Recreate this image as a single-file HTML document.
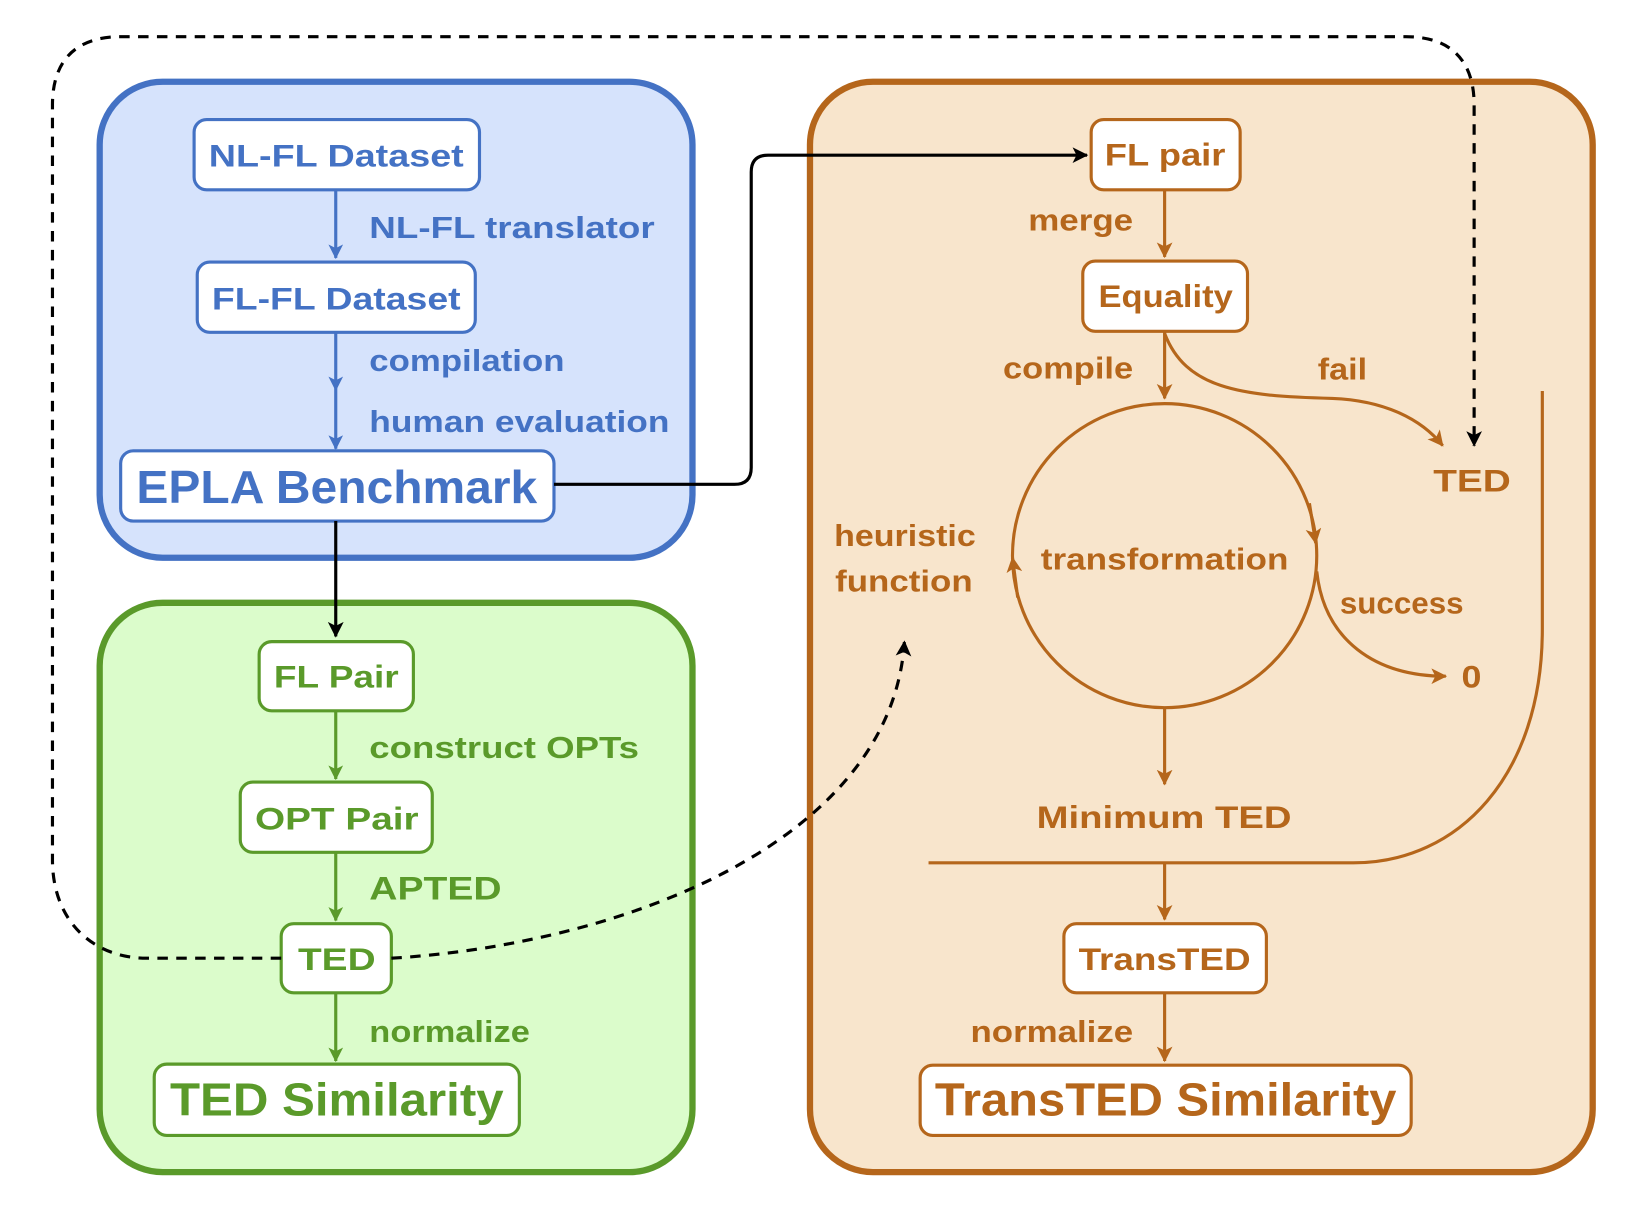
<!DOCTYPE html>
<html><head><meta charset="utf-8"><style>
html,body{margin:0;padding:0;background:#fff;}
svg{display:block;}
text{font-family:"Liberation Sans",sans-serif;font-weight:bold;}
</style></head><body>
<svg width="1642" height="1213" viewBox="0 0 1565 1157" preserveAspectRatio="none" xmlns="http://www.w3.org/2000/svg">
<defs>
<marker id="ab" viewBox="0 0 12 12" refX="11" refY="6" markerWidth="14" markerHeight="14" markerUnits="userSpaceOnUse" orient="auto"><path d="M0,0 L12,6 L0,12 L3,6 Z" fill="#4472c4"/></marker>
<marker id="ag" viewBox="0 0 12 12" refX="11" refY="6" markerWidth="14" markerHeight="14" markerUnits="userSpaceOnUse" orient="auto"><path d="M0,0 L12,6 L0,12 L3,6 Z" fill="#5a9a2a"/></marker>
<marker id="ao" viewBox="0 0 12 12" refX="11" refY="6" markerWidth="15" markerHeight="15" markerUnits="userSpaceOnUse" orient="auto"><path d="M0,0 L12,6 L0,12 L3,6 Z" fill="#b5661b"/></marker>
<marker id="ak" viewBox="0 0 12 12" refX="11" refY="6" markerWidth="15" markerHeight="15" markerUnits="userSpaceOnUse" orient="auto"><path d="M0,0 L12,6 L0,12 L3,6 Z" fill="#000"/></marker>
</defs>
<rect x="95" y="78" width="565" height="454" rx="60" fill="#d6e3fc" stroke="#4472c4" stroke-width="6"/>
<rect x="95" y="575" width="565" height="543" rx="60" fill="#dbfccb" stroke="#5a9a2a" stroke-width="6"/>
<rect x="772" y="78" width="746" height="1040" rx="60" fill="#f8e5cc" stroke="#b5661b" stroke-width="6"/>

<g stroke="#4472c4" stroke-width="3" fill="#fff">
<rect x="185" y="114" width="272" height="67" rx="12"/>
<rect x="188" y="250" width="265" height="67" rx="12"/>
<rect x="115" y="430" width="413" height="67" rx="12"/>
<line x1="320" y1="181" x2="320" y2="246" marker-end="url(#ab)"/>
<line x1="320" y1="317" x2="320" y2="372" marker-end="url(#ab)"/>
<line x1="320" y1="372" x2="320" y2="428" marker-end="url(#ab)"/>
</g>
<g fill="#4472c4" font-size="30" lengthAdjust="spacingAndGlyphs">
<text x="199" y="159" textLength="243" lengthAdjust="spacingAndGlyphs">NL-FL Dataset</text>
<text x="202" y="295" textLength="237" lengthAdjust="spacingAndGlyphs">FL-FL Dataset</text>
<text x="130" y="480" font-size="44" textLength="382" lengthAdjust="spacingAndGlyphs">EPLA Benchmark</text>
<text x="352" y="227" font-size="29" textLength="272" lengthAdjust="spacingAndGlyphs">NL-FL translator</text>
<text x="352" y="354" font-size="29" textLength="186" lengthAdjust="spacingAndGlyphs">compilation</text>
<text x="352" y="412" font-size="29" textLength="286" lengthAdjust="spacingAndGlyphs">human evaluation</text>
</g>

<g stroke="#5a9a2a" stroke-width="3" fill="#fff">
<rect x="247" y="612" width="147" height="66" rx="12"/>
<rect x="229" y="746" width="183" height="67" rx="12"/>
<rect x="268" y="881" width="105" height="66" rx="12"/>
<rect x="147" y="1015" width="348" height="68" rx="12"/>
<line x1="320" y1="678" x2="320" y2="743" marker-end="url(#ag)"/>
<line x1="320" y1="813" x2="320" y2="878" marker-end="url(#ag)"/>
<line x1="320" y1="947" x2="320" y2="1012" marker-end="url(#ag)"/>
</g>
<g fill="#5a9a2a" font-size="30">
<text x="261" y="656" textLength="119" lengthAdjust="spacingAndGlyphs">FL Pair</text>
<text x="243" y="791" textLength="156" lengthAdjust="spacingAndGlyphs">OPT Pair</text>
<text x="284" y="925" textLength="74" lengthAdjust="spacingAndGlyphs">TED</text>
<text x="162" y="1064" font-size="44" textLength="318" lengthAdjust="spacingAndGlyphs">TED Similarity</text>
<text x="352" y="723" font-size="29" textLength="257" lengthAdjust="spacingAndGlyphs">construct OPTs</text>
<text x="352" y="858" font-size="31" textLength="126" lengthAdjust="spacingAndGlyphs">APTED</text>
<text x="352" y="994" font-size="29" textLength="153" lengthAdjust="spacingAndGlyphs">normalize</text>
</g>

<g stroke="#b5661b" stroke-width="3" fill="none">
<line x1="1110" y1="181" x2="1110" y2="245" marker-end="url(#ao)"/>
<line x1="1110" y1="316" x2="1110" y2="380" marker-end="url(#ao)"/>
<path d="M1110,318 C1130,370 1180,378 1270,380 C1320,382 1355,400 1375,425" marker-end="url(#ao)"/>
<circle cx="1110" cy="530" r="145"/>
<path d="M1248,480 L1254,518" marker-end="url(#ao)"/>
<path d="M970,570 L965,532" marker-end="url(#ao)"/>
<path d="M1255,545 C1262,610 1310,645 1378,645" marker-end="url(#ao)"/>
<line x1="1110" y1="675" x2="1110" y2="748" marker-end="url(#ao)"/>
<path d="M1470,373 L1470,600 C1470,740 1390,823 1290,823 L885,823"/>
<line x1="1110" y1="823" x2="1110" y2="877" marker-end="url(#ao)"/>
<line x1="1110" y1="947" x2="1110" y2="1012" marker-end="url(#ao)"/>
</g>
<g stroke="#b5661b" stroke-width="3" fill="#fff">
<rect x="1040" y="114" width="142" height="67" rx="12"/>
<rect x="1032" y="249" width="157" height="67" rx="12"/>
<rect x="1014" y="881" width="193" height="66" rx="12"/>
<rect x="877" y="1016" width="468" height="67" rx="12"/>
</g>
<g fill="#b5661b" font-size="30">
<text x="1053" y="158" textLength="115" lengthAdjust="spacingAndGlyphs">FL pair</text>
<text x="1047" y="293" textLength="128" lengthAdjust="spacingAndGlyphs">Equality</text>
<text x="1028" y="925" textLength="164" lengthAdjust="spacingAndGlyphs">TransTED</text>
<text x="891" y="1064" font-size="44" textLength="440" lengthAdjust="spacingAndGlyphs">TransTED Similarity</text>
<text x="980" y="220" font-size="29" textLength="100" lengthAdjust="spacingAndGlyphs">merge</text>
<text x="956" y="361" font-size="29" textLength="124" lengthAdjust="spacingAndGlyphs">compile</text>
<text x="1256" y="362" font-size="29" textLength="47" lengthAdjust="spacingAndGlyphs">fail</text>
<text x="1366" y="469" textLength="74" lengthAdjust="spacingAndGlyphs">TED</text>
<text x="992" y="543" font-size="29" textLength="236" lengthAdjust="spacingAndGlyphs">transformation</text>
<text x="795" y="521" font-size="29" textLength="135" lengthAdjust="spacingAndGlyphs">heuristic</text>
<text x="796" y="564" font-size="29" textLength="131" lengthAdjust="spacingAndGlyphs">function</text>
<text x="1277" y="585" font-size="29" textLength="118" lengthAdjust="spacingAndGlyphs">success</text>
<text x="1393" y="656" textLength="19" lengthAdjust="spacingAndGlyphs">0</text>
<text x="988" y="790" textLength="243" lengthAdjust="spacingAndGlyphs">Minimum TED</text>
<text x="925" y="994" font-size="29" textLength="155" lengthAdjust="spacingAndGlyphs">normalize</text>
</g>

<g stroke="#000" stroke-width="3" fill="none">
<line x1="320" y1="497" x2="320" y2="607" marker-end="url(#ak)"/>
<path d="M528,462 L700,462 Q716,462 716,446 L716,164 Q716,148 732,148 L1036,148" marker-end="url(#ak)"/>
<g stroke-dasharray="10,8">
<path d="M268,914 L140,914 C90,914 50,880 50,820 L50,100 C50,60 70,35 115,35 L1340,35 C1385,35 1405,60 1405,100 L1405,425" marker-end="url(#ak)"/>
<path d="M373,914 C600,900 850,800 862,612" marker-end="url(#ak)"/>
</g>
</g>
</svg>
</body></html>
